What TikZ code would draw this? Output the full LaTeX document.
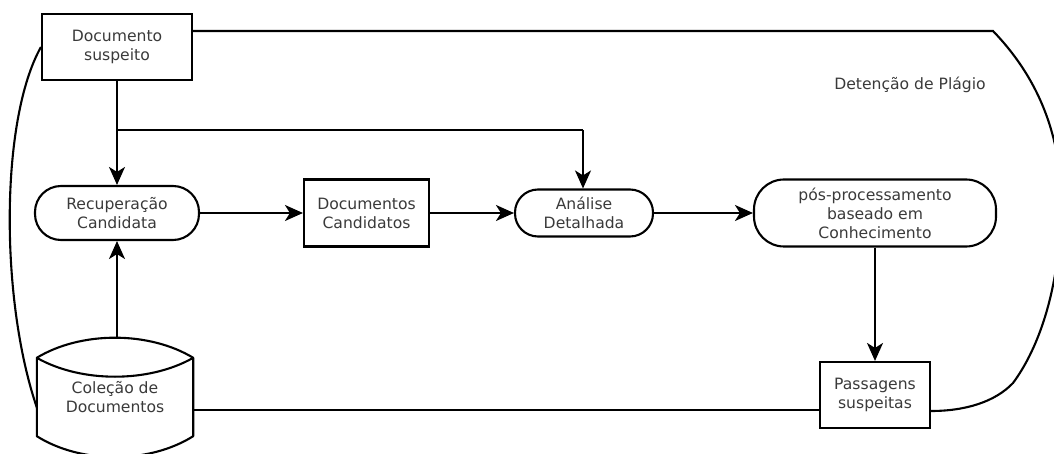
\documentclass[tikz,border=0pt]{standalone}
\usepackage{fontspec}
\setmainfont{DejaVu Sans}
\usetikzlibrary{arrows.meta}
\definecolor{txt}{HTML}{3A3A3A}
\tikzset{
  lbl/.style={font=\fontsize{15.6}{19}\selectfont, text=txt, align=center, inner sep=0pt},
  boxnode/.style={lbl, draw, line width=2.1pt, rectangle},
  stadium/.style={lbl, draw, line width=2.1pt, rectangle, rounded corners=#1},
  ln/.style={line width=2.1pt},
  arr/.style={line width=2.1pt, -{Stealth[length=18pt,width=16pt,inset=5pt]}},
}
\begin{document}
\begin{tikzpicture}[x=1pt,y=-1pt]
\useasboundingbox[fill=white] (0,0) rectangle (1054,454);

\node[boxnode, minimum width=150pt, minimum height=66pt] (ds) at (117,47) {Documento\\suspeito};
\node[stadium=26pt, minimum width=164pt, minimum height=54pt] (rc) at (117,213) {Recuperação\\Candidata};
\node[boxnode, minimum width=125pt, minimum height=67pt] (dc) at (366.5,213) {Documentos\\Candidatos};
\node[stadium=23pt, minimum width=138pt, minimum height=47pt] (ad) at (584,213) {Análise\\Detalhada};
\node[stadium=30pt, minimum width=242pt, minimum height=67pt] (pp) at (875,213) {pós-processamento\\baseado em\\Conhecimento};
\node[boxnode, minimum width=110pt, minimum height=66pt] (ps) at (875,395) {Passagens\\suspeitas};
\node[lbl] (dp) at (910,85) {Detenção de Plágio};

% Coleção de Documentos (stored data shape)
\node[lbl, minimum width=156pt, minimum height=78pt] (cd) at (115,397) {Coleção de\\Documentos};
\draw[ln, line join=round] (cd.north west) .. controls (81,331) and (149,331) .. (cd.north east)
  -- (cd.south east) .. controls (149,464) and (81,464) .. (cd.south west) -- cycle;
\draw[ln] (cd.north west) .. controls (81,383) and (149,383) .. (cd.north east);
\coordinate (cdtop) at (117,338);

% flow arrows
\coordinate (branch) at (117,130);
\coordinate (adbranch) at (583,130);
\draw[arr] (ds.south) -- (ds.south |- rc.north);
\draw[ln] (branch) -- (adbranch);
\draw[arr] (adbranch) -- (ad.north -| adbranch);
\draw[arr] (cdtop) -- (rc.south);
\draw[arr] (rc.east) -- (dc.west);
\draw[arr] (dc.east) -- (ad.west);
\draw[arr] (ad.east) -- (pp.west);
\draw[arr] (pp.south) -- (ps.north);

% outer boundary
\coordinate (dsr) at (ds.east |- 0,31);
\coordinate (rt) at (993,31);
\coordinate (psr) at (ps.east |- 0,411);
\coordinate (psl) at (ps.west |- 0,410);
\coordinate (cdr) at (cd.east |- 0,410);
\draw[ln] (dsr) -- (rt) .. controls (1050,90) and (1066,160) .. (1060,230)
  .. controls (1056,300) and (1036,352) .. (1013,383)
  .. controls (995,402) and (965,411) .. (psr);
\draw[ln] (cdr) -- (psl);
\coordinate (cdl) at (37,408);
\coordinate (dsl) at (ds.west);
\draw[ln] (cdl) .. controls (0,300) and (0,120) .. (dsl);
\end{tikzpicture}
\end{document}
